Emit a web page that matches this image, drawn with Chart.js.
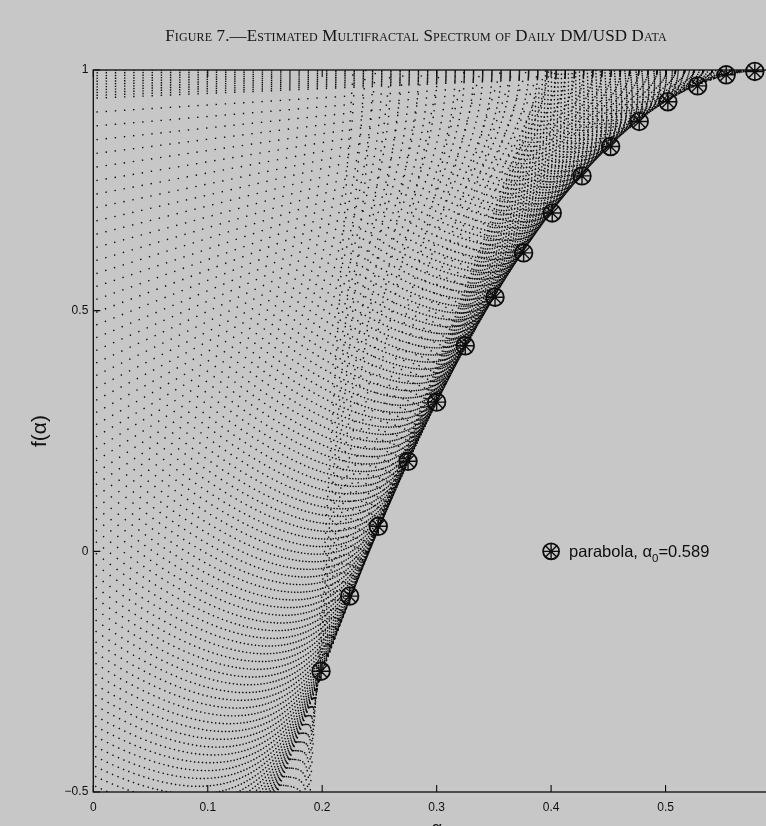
<!DOCTYPE html>
<html>
<head>
<meta charset="utf-8">
<script src="https://cdn.jsdelivr.net/npm/chart.js@4.4.1/dist/chart.umd.min.js"></script>
<style>
  html, body { margin: 0; padding: 0; background: #c6c7c6; overflow: hidden; width: 766px; height: 826px; }
  #wrap { position: absolute; left: 0; top: 0; width: 800px; height: 860px; }
  #title { position: absolute; left: 0; top: 26px; width: 832px; text-align: center; white-space: nowrap;
           font-family: 'Liberation Serif', 'Times New Roman', serif; font-size: 17px; font-variant: small-caps;
           color: #141414; letter-spacing: 0.15px; }
</style>
</head>
<body>
<div id="wrap"><canvas id="chart" width="800" height="860"></canvas></div>
<div id="title">Figure 7.—Estimated Multifractal Spectrum of Daily DM/USD Data</div>
<script>
// Moment orders q and the scaling function tau(q); each pair gives the line f = q*alpha - tau(q).
const slopeQ = [
  0, 0.01, 0.02, 0.03, 0.04, 0.05, 0.06, 0.07, 0.08, 0.09, 0.1,
  0.15, 0.2, 0.25, 0.3, 0.35, 0.4, 0.45, 0.5,
  0.55, 0.6, 0.65, 0.7, 0.75, 0.8, 0.85, 0.9, 0.95, 1,
  1.05, 1.1, 1.15, 1.2, 1.25, 1.3, 1.35, 1.4, 1.45, 1.5,
  1.55, 1.6, 1.65, 1.7, 1.75, 1.8, 1.85, 1.9, 1.95, 2,
  2.05, 2.1, 2.15, 2.2, 2.25, 2.3, 2.35, 2.4, 2.45, 2.5,
  2.55, 2.6, 2.65, 2.7, 2.75, 2.8, 2.85, 2.9, 2.95, 3,
  3.05, 3.1, 3.15, 3.2, 3.25, 3.3, 3.35, 3.4, 3.45, 3.5,
  3.55, 3.6, 3.65, 3.7, 3.75, 3.8, 3.85, 3.9, 3.95, 4,
  4.05, 4.1, 4.15, 4.2, 4.25, 4.3, 4.35, 4.4, 4.45, 4.5,
  4.55, 4.6, 4.65, 4.7, 4.75, 4.8, 4.85, 4.9, 4.95, 5,
  5.05, 5.1, 5.15, 5.2, 5.25, 5.3, 5.35, 5.4, 5.45, 5.5,
  5.55, 5.6, 5.65, 5.7, 5.75, 5.8, 5.85, 5.9, 5.95, 6,
  6.05, 6.1, 6.15, 6.2, 6.25, 6.3, 6.35, 6.4,
  6.6, 7, 7.5, 8, 9, 10, 12, 14, 17, 20, 25, 30, 40
];
const tauQ = [
  -1, -0.9941, -0.9882, -0.9824, -0.9765, -0.9706, -0.9648, -0.9589, -0.9531, -0.9472, -0.9414,
  -0.9123, -0.8834, -0.8546, -0.8260, -0.7976, -0.7692, -0.7411, -0.7131,
  -0.6852, -0.6575, -0.6299, -0.6025, -0.5753, -0.5482, -0.5212, -0.4944, -0.4678, -0.4413,
  -0.4149, -0.3887, -0.3627, -0.3368, -0.3110, -0.2854, -0.2600, -0.2347, -0.2096, -0.1846,
  -0.1597, -0.1350, -0.1105, -0.0861, -0.0619, -0.0378, -0.0139, 0.0099, 0.0335, 0.0570,
  0.0803, 0.1035, 0.1265, 0.1494, 0.1721, 0.1947, 0.2171, 0.2394, 0.2615, 0.2834,
  0.3053, 0.3269, 0.3484, 0.3698, 0.3910, 0.4120, 0.4329, 0.4537, 0.4743, 0.4948,
  0.5151, 0.5352, 0.5552, 0.5750, 0.5947, 0.6143, 0.6337, 0.6529, 0.6720, 0.6909,
  0.7097, 0.7284, 0.7468, 0.7652, 0.7834, 0.8014, 0.8193, 0.8370, 0.8546, 0.8720,
  0.8893, 0.9064, 0.9234, 0.9402, 0.9569, 0.9734, 0.9897, 1.0060, 1.0220, 1.0379,
  1.0537, 1.0693, 1.0848, 1.1001, 1.1152, 1.1302, 1.1451, 1.1598, 1.1744, 1.1888,
  1.2030, 1.2171, 1.2310, 1.2448, 1.2585, 1.2720, 1.2853, 1.2985, 1.3116, 1.3244,
  1.3372, 1.3498, 1.3622, 1.3745, 1.3866, 1.3986, 1.4104, 1.4221, 1.4336, 1.4450,
  1.4562, 1.4673, 1.4782, 1.4890, 1.4996, 1.5101, 1.5204, 1.5306,
  1.5700, 1.6497, 1.7490, 1.8481, 2.0455, 2.2422, 2.6343, 3.0253, 3.6104, 4.1945, 5.1670, 6.1386, 8.0807
];

// Fitted parabola, alpha_0 = 0.589
const alphaParabola = [0.199, 0.224, 0.249, 0.275, 0.300, 0.325, 0.351, 0.376, 0.401, 0.427, 0.452, 0.477, 0.502, 0.528, 0.553, 0.578];
const fParabola     = [-0.249, -0.093, 0.052, 0.187, 0.310, 0.427, 0.528, 0.620, 0.703, 0.780, 0.841, 0.893, 0.934, 0.967, 0.990, 0.997];

const xTickValues = [0, 0.1, 0.2, 0.3, 0.4, 0.5, 0.6];
const yTickValues = [-0.5, 0, 0.5, 1];
const legendParts = ['parabola, ', 'α', '0', '=0.589'];

const alphaMin = xTickValues[0];
const alphaMax = xTickValues[xTickValues.length - 1];
const INK = '#0d0d0d';
const SANS = "'Liberation Sans', Arial, Helvetica, sans-serif";

const fmtTick = v => String(v).replace('-', '\u2212');

// dotted lines of the Legendre transform
const lineSets = slopeQ.map((q, i) => ({
  data: [
    { x: alphaMin, y: q * alphaMin - tauQ[i] },
    { x: alphaMax, y: q * alphaMax - tauQ[i] }
  ],
  showLine: true,
  borderColor: INK,
  borderWidth: 1.4,
  borderDash: [1.4, 7.78],
  borderDashOffset: 6,
  borderCapStyle: 'butt',
  pointRadius: 0,
  pointHoverRadius: 0,
  tension: 0,
  clip: 0,
  order: 2
}));

const parabolaPoints = alphaParabola.map((a, i) => ({ x: a, y: fParabola[i] }));
const markerBase = {
  data: parabolaPoints,
  showLine: false,
  pointRadius: 8.8,
  pointHoverRadius: 8.8,
  pointBorderColor: INK,
  pointBackgroundColor: 'rgba(0,0,0,0)',
  clip: false,
  order: 1
};

// axes box with inward tick marks
const boxPlugin = {
  id: 'box',
  afterDatasetsDraw(chart) {
    const { ctx, chartArea: a, scales } = chart;
    ctx.save();
    ctx.strokeStyle = INK;
    ctx.lineWidth = 1.3;
    ctx.strokeRect(a.left, a.top, a.right - a.left, a.bottom - a.top);
    ctx.lineWidth = 1.1;
    ctx.beginPath();
    xTickValues.forEach(v => {
      const px = scales.x.getPixelForValue(v);
      ctx.moveTo(px, a.bottom); ctx.lineTo(px, a.bottom - 7);
      ctx.moveTo(px, a.top); ctx.lineTo(px, a.top + 7);
    });
    yTickValues.forEach(v => {
      const py = scales.y.getPixelForValue(v);
      ctx.moveTo(a.left, py); ctx.lineTo(a.left + 7, py);
      ctx.moveTo(a.right, py); ctx.lineTo(a.right - 7, py);
    });
    ctx.stroke();
    ctx.restore();
  }
};

// legend entry inside the axes
const legendPlugin = {
  id: 'innerLegend',
  afterDraw(chart) {
    const { ctx, scales } = chart;
    const cx = scales.x.getPixelForValue(0.4);
    const cy = scales.y.getPixelForValue(0);
    const r = 8;
    ctx.save();
    ctx.strokeStyle = INK;
    ctx.lineWidth = 1.8;
    ctx.beginPath();
    ctx.arc(cx, cy, r, 0, Math.PI * 2);
    ctx.stroke();
    ctx.lineWidth = 1.4;
    ctx.beginPath();
    for (let k = 0; k < 4; k++) {
      const t = k * Math.PI / 4;
      ctx.moveTo(cx - Math.cos(t) * r, cy - Math.sin(t) * r);
      ctx.lineTo(cx + Math.cos(t) * r, cy + Math.sin(t) * r);
    }
    ctx.stroke();
    ctx.fillStyle = INK;
    ctx.textBaseline = 'alphabetic';
    let x = cx + 18;
    const base = cy + 6;
    ctx.font = '16.5px ' + SANS;
    ctx.fillText(legendParts[0], x, base); x += ctx.measureText(legendParts[0]).width;
    ctx.fillText(legendParts[1], x, base); x += ctx.measureText(legendParts[1]).width;
    ctx.font = '11.5px ' + SANS;
    ctx.fillText(legendParts[2], x, base + 5); x += ctx.measureText(legendParts[2]).width;
    ctx.font = '16.5px ' + SANS;
    ctx.fillText(legendParts[3], x, base);
    ctx.restore();
  }
};

new Chart(document.getElementById('chart'), {
  type: 'scatter',
  data: {
    datasets: [
      ...lineSets,
      Object.assign({}, markerBase, { pointStyle: 'circle', pointBorderWidth: 1.8 }),
      Object.assign({}, markerBase, { pointStyle: 'star', pointBorderWidth: 1.4 })
    ]
  },
  options: {
    responsive: false,
    animation: false,
    events: [],
    layout: { padding: { left: 0, right: 20, top: 70, bottom: 0 } },
    plugins: { legend: { display: false }, tooltip: { enabled: false } },
    scales: {
      x: {
        type: 'linear',
        min: alphaMin,
        max: alphaMax,
        afterFit(s) { s.height = 68; },
        afterBuildTicks(s) { s.ticks = xTickValues.map(v => ({ value: v })); },
        grid: { display: false, drawTicks: false },
        border: { display: false },
        ticks: { padding: 8, color: '#111', autoSkip: false, maxRotation: 0,
                 font: { family: SANS, size: 12 }, callback: v => fmtTick(v) },
        title: { display: true, text: 'α', color: '#111', font: { family: SANS, size: 18 },
                 padding: { top: 0, bottom: 20 } }
      },
      y: {
        type: 'linear',
        min: yTickValues[0],
        max: yTickValues[yTickValues.length - 1],
        afterFit(s) { s.width = 93.3; },
        afterBuildTicks(s) { s.ticks = yTickValues.map(v => ({ value: v })); },
        grid: { display: false, drawTicks: false },
        border: { display: false },
        ticks: { padding: 5, color: '#111', autoSkip: false,
                 font: { family: SANS, size: 12 }, callback: v => fmtTick(v) },
        title: { display: true, text: 'f(α)', color: '#111', font: { family: SANS, size: 21 },
                 padding: { top: 28, bottom: 0 } }
      }
    }
  },
  plugins: [boxPlugin, legendPlugin]
});
</script>
</body>
</html>
